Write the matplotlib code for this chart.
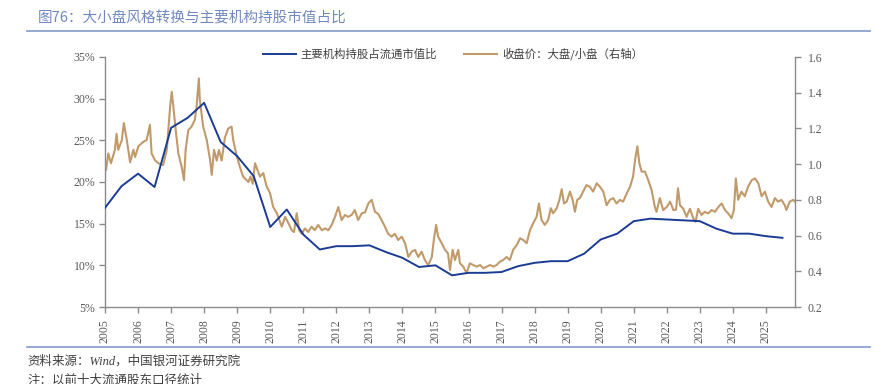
import matplotlib
matplotlib.use("Agg")
import matplotlib.pyplot as plt
from matplotlib.ticker import FuncFormatter, MultipleLocator
from matplotlib.lines import Line2D

plt.rcParams['font.family'] = ['Noto Sans CJK SC', 'DejaVu Sans']

title = "图76：大小盘风格转换与主要机构持股市值占比"
source = "资料来源：Wind，中国银河证券研究院"
note = "注：以前十大流通股东口径统计"
label_share = "主要机构持股占流通市值比"
label_ratio = "收盘价：大盘/小盘（右轴）"

year_ticks = list(range(2005, 2026))

share_t = [2005.0, 2005.5, 2006.0, 2006.5, 2007.0, 2007.5, 2008.0, 2008.5, 2009.0, 2009.5,
           2010.0, 2010.5, 2011.0, 2011.5, 2012.0, 2012.5, 2013.0, 2013.5, 2014.0, 2014.5,
           2015.0, 2015.5, 2016.0, 2016.5, 2017.0, 2017.5, 2018.0, 2018.5, 2019.0, 2019.5,
           2020.0, 2020.5, 2021.0, 2021.5, 2022.0, 2022.5, 2023.0, 2023.5, 2024.0, 2024.5,
           2025.0, 2025.5]
share_v = [16.9, 19.5, 21.0, 19.4, 26.5, 27.7, 29.5, 24.8, 23.1, 20.7,
           14.6, 16.7, 13.7, 11.9, 12.3, 12.3, 12.4, 11.6, 10.9, 9.8,
           10.0, 8.8, 9.1, 9.1, 9.2, 9.9, 10.3, 10.5, 10.5, 11.4,
           13.1, 13.8, 15.3, 15.6, 15.5, 15.4, 15.3, 14.4, 13.8, 13.8,
           13.5, 13.3]

ratio_t = [2005.03, 2005.10, 2005.18, 2005.30, 2005.35, 2005.40, 2005.51, 2005.57, 2005.66, 2005.76,
           2005.86, 2005.91, 2006.01, 2006.16, 2006.26, 2006.36, 2006.41, 2006.51, 2006.61, 2006.76,
           2006.87, 2006.97, 2007.02, 2007.07, 2007.14, 2007.22, 2007.32, 2007.39, 2007.44, 2007.52,
           2007.62, 2007.72, 2007.77, 2007.84, 2007.87, 2007.97, 2008.08, 2008.18, 2008.23, 2008.30,
           2008.38, 2008.45, 2008.53, 2008.63, 2008.73, 2008.83, 2008.88, 2008.98, 2009.08, 2009.18,
           2009.34, 2009.40, 2009.47, 2009.54, 2009.61, 2009.69, 2009.79, 2009.89, 2009.99, 2010.09,
           2010.20, 2010.24, 2010.35, 2010.45, 2010.55, 2010.65, 2010.72, 2010.80, 2010.88, 2010.95,
           2011.05, 2011.15, 2011.25, 2011.35, 2011.45, 2011.56, 2011.66, 2011.76, 2011.86, 2011.96,
           2012.06, 2012.16, 2012.26, 2012.36, 2012.46, 2012.56, 2012.66, 2012.77, 2012.87, 2012.97,
           2013.07, 2013.17, 2013.27, 2013.37, 2013.47, 2013.57, 2013.67, 2013.77, 2013.87, 2013.98,
           2014.08, 2014.18, 2014.28, 2014.38, 2014.48, 2014.58, 2014.68, 2014.78, 2014.89, 2014.95,
           2015.02, 2015.08, 2015.19, 2015.29, 2015.38, 2015.44, 2015.52, 2015.59, 2015.69, 2015.74,
           2015.84, 2015.94, 2016.04, 2016.14, 2016.25, 2016.35, 2016.45, 2016.55, 2016.65, 2016.75,
           2016.85, 2016.95, 2017.05, 2017.15, 2017.25, 2017.35, 2017.46, 2017.56, 2017.66, 2017.76,
           2017.86, 2017.96, 2018.06, 2018.13, 2018.21, 2018.31, 2018.41, 2018.49, 2018.56, 2018.67,
           2018.75, 2018.82, 2018.89, 2018.97, 2019.07, 2019.15, 2019.22, 2019.29, 2019.37, 2019.47,
           2019.57, 2019.67, 2019.77, 2019.88, 2019.98, 2020.08, 2020.18, 2020.28, 2020.38, 2020.48,
           2020.58, 2020.68, 2020.79, 2020.89, 2020.98, 2021.04, 2021.11, 2021.17, 2021.24, 2021.34,
           2021.44, 2021.54, 2021.64, 2021.69, 2021.79, 2021.89, 2022.00, 2022.10, 2022.20, 2022.28,
           2022.34, 2022.40, 2022.50, 2022.60, 2022.70, 2022.80, 2022.87, 2022.95, 2023.05, 2023.15,
           2023.25, 2023.36, 2023.46, 2023.56, 2023.66, 2023.76, 2023.86, 2023.96, 2024.03, 2024.09,
           2024.16, 2024.26, 2024.36, 2024.46, 2024.57, 2024.67, 2024.77, 2024.87, 2024.97, 2025.07,
           2025.17, 2025.27, 2025.37, 2025.47, 2025.57, 2025.62, 2025.72, 2025.83, 2025.88]
ratio_v = [0.967, 1.06, 1.005, 1.08, 1.17, 1.08, 1.135, 1.23, 1.135, 1.01,
           1.08, 1.04, 1.10, 1.125, 1.135, 1.22, 1.06, 1.023, 1.005, 0.995,
           1.08, 1.32, 1.405, 1.32, 1.19, 1.06, 0.985, 0.91, 1.08, 1.19,
           1.21, 1.25, 1.32, 1.48, 1.36, 1.21, 1.135, 1.023, 0.94, 1.08,
           1.02, 1.08, 1.02, 1.15, 1.20, 1.21, 1.135, 1.05, 0.985, 0.93,
           0.90, 0.93, 0.89, 1.005, 0.97, 0.93, 0.95, 0.875, 0.84, 0.76,
           0.725, 0.705, 0.65, 0.705, 0.67, 0.63, 0.62, 0.725, 0.63, 0.61,
           0.64, 0.62, 0.65, 0.63, 0.66, 0.63, 0.64, 0.63, 0.66, 0.705,
           0.76, 0.687, 0.715, 0.705, 0.715, 0.743, 0.687, 0.725, 0.73, 0.78,
           0.80, 0.733, 0.72, 0.687, 0.65, 0.61, 0.594, 0.61, 0.575, 0.594,
           0.557, 0.48, 0.51, 0.52, 0.48, 0.51, 0.463, 0.435, 0.48, 0.575,
           0.66, 0.594, 0.557, 0.52, 0.50, 0.407, 0.52, 0.463, 0.52, 0.445,
           0.426, 0.39, 0.445, 0.435, 0.426, 0.435, 0.417, 0.426, 0.435, 0.426,
           0.435, 0.454, 0.463, 0.48, 0.463, 0.52, 0.547, 0.585, 0.575, 0.557,
           0.63, 0.67, 0.705, 0.78, 0.687, 0.66, 0.687, 0.753, 0.725, 0.753,
           0.80, 0.86, 0.78, 0.79, 0.846, 0.80, 0.733, 0.80, 0.81, 0.846,
           0.883, 0.873, 0.846, 0.893, 0.873, 0.846, 0.77, 0.80, 0.81, 0.78,
           0.80, 0.79, 0.837, 0.874, 0.93, 1.023, 1.10, 1.005, 0.958, 0.958,
           0.91, 0.855, 0.76, 0.733, 0.81, 0.743, 0.76, 0.79, 0.743, 0.745,
           0.865, 0.77, 0.75, 0.705, 0.75, 0.697, 0.677, 0.75, 0.715, 0.733,
           0.724, 0.743, 0.733, 0.76, 0.78, 0.743, 0.724, 0.697, 0.743, 0.92,
           0.80, 0.846, 0.82, 0.874, 0.91, 0.92, 0.893, 0.82, 0.846, 0.79,
           0.76, 0.81, 0.79, 0.80, 0.77, 0.743, 0.79, 0.80, 0.79]

BLUE = "#1C3C94"
GOLD = "#C19A6B"
GRAY = "#8C8C8C"
TXT = "#595959"

fig = plt.figure(figsize=(8.75, 3.84), dpi=100)
ax = fig.add_axes([105/875, 1-307/384, 690/875, 250/384])
ax2 = ax.twinx()

ax.plot(share_t, share_v, color=BLUE, lw=1.4, zorder=3)
ax2.plot(ratio_t, ratio_v, color=GOLD, lw=1.5, zorder=2)
ax.set_zorder(ax2.get_zorder() + 1)
ax.patch.set_visible(False)

ax.set_xlim(2005, 2025.88)
ax.set_ylim(5, 35)
ax2.set_ylim(0.2, 1.6)
ax.yaxis.set_major_locator(MultipleLocator(5))
ax.yaxis.set_major_formatter(FuncFormatter(lambda v, p: f"{v:.0f}%"))
ax2.yaxis.set_major_locator(MultipleLocator(0.2))
ax2.yaxis.set_major_formatter(FuncFormatter(lambda v, p: f"{v:.1f}"))
ax.set_xticks(year_ticks)
ax.set_xticklabels([str(y) for y in year_ticks], rotation=90)

serif = ['Liberation Serif', 'DejaVu Serif']
for a in (ax, ax2):
    for s in a.spines.values():
        s.set_color(GRAY)
        s.set_linewidth(1.0)
    a.spines['top'].set_visible(False)
    a.tick_params(colors=GRAY, length=4, width=1.0, labelsize=8.5, labelcolor=TXT)
    for lab in a.get_xticklabels() + a.get_yticklabels():
        lab.set_family(serif)
ax.spines['right'].set_visible(False)
ax2.spines['left'].set_visible(False)
ax2.spines['bottom'].set_visible(False)
ax.tick_params(axis='y', pad=3)
ax2.tick_params(axis='y', pad=5)
ax.tick_params(axis='x', pad=5)

# Legend
handles = [Line2D([], [], color=BLUE, lw=1.4), Line2D([], [], color=GOLD, lw=1.5)]
leg = fig.legend(handles, [label_share, label_ratio], loc='center', bbox_to_anchor=(453/875, 1-54/384),
                 ncol=2, frameon=False, fontsize=8.2, handlelength=2.9, handletextpad=0.4,
                 columnspacing=2.4)
for t in leg.get_texts():
    t.set_color("#404040")

# Title and rules
fig.text(38/875, 1-18/384, title, fontsize=10.5, color="#7189BF", va='center', ha='left')
fig.add_artist(Line2D([27/875, 870/875], [1-31/384, 1-31/384], color="#8CA3CE", lw=1.3))
fig.add_artist(Line2D([27/875, 870/875], [1-347/384, 1-347/384], color="#8CA3CE", lw=1.3))

fig.text(27/875, 1-361/384, source, fontsize=9, color="#404040", va='center', ha='left',
         style='italic', family=['Liberation Serif', 'Noto Sans CJK SC'])
fig.text(27/875, 1-381/384, note, fontsize=9, color="#404040", va='center', ha='left',
         style='italic', family=['Liberation Serif', 'Noto Sans CJK SC'])

fig.savefig("out.png", dpi=100)
